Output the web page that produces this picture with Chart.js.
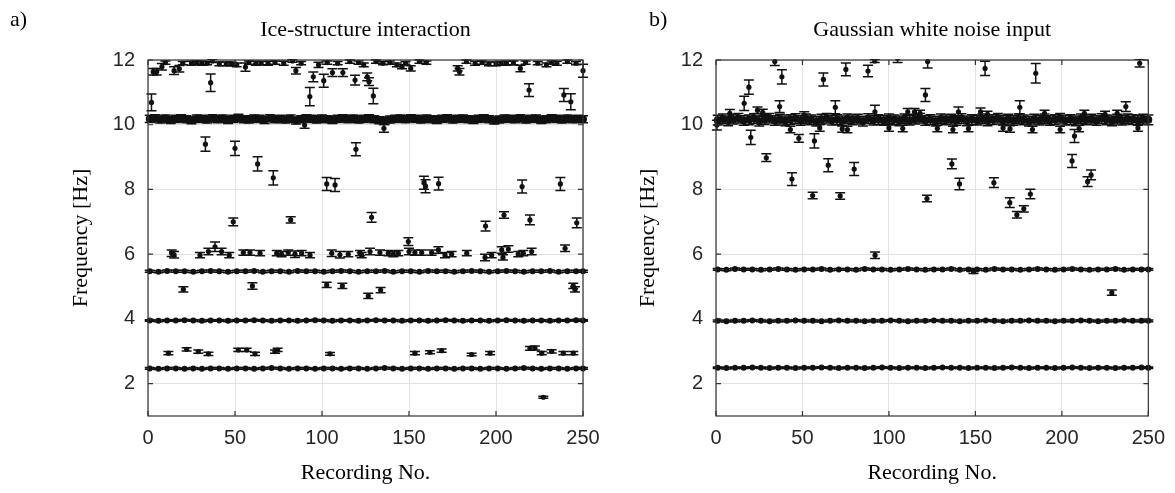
<!DOCTYPE html>
<html>
<head>
<meta charset="utf-8">
<script src="https://cdn.jsdelivr.net/npm/chart.js@4.4.1/dist/chart.umd.min.js"></script>
<style>
  body { margin: 0; background: #fff; width: 1175px; height: 493px; position: relative; overflow: hidden; }
  .panel { position: absolute; top: 0; }
  .tag { position: absolute; top: 8px; font: 22px "Liberation Serif", serif; line-height: 1; color: #000; }
</style>
</head>
<body>
<div class="panel" style="left:0"><canvas id="chartA" width="610" height="493"></canvas></div>
<div class="panel" style="left:568px"><canvas id="chartB" width="607" height="493"></canvas></div>
<div class="tag" style="left:10px">a)</div>
<div class="tag" style="left:649px">b)</div>
<script>
// recording numbers used for the dense bands
const recs5 = [1,6,11,16,21,26,31,36,41,46,51,56,61,66,71,76,81,86,91,96,
  101,106,111,116,121,126,131,136,141,146,151,156,161,166,171,176,181,186,191,196,
  201,206,211,216,221,226,231,236,241,246,250];
const recs3 = [1,4,7,10,13,16,19,22,25,28,31,34,37,40,43,46,49,52,55,58,
  61,64,67,70,73,76,79,82,85,88,91,94,97,100,103,106,109,112,115,118,
  121,124,127,130,133,136,139,142,145,148,151,154,157,160,163,166,169,172,175,178,
  181,184,187,190,193,196,199,202,205,208,211,214,217,220,223,226,229,232,235,238,
  241,244,247,250];

const yTicks = [2, 4, 6, 8, 10, 12];

// a) ice-structure interaction: bands
const aBand25 = [2.47,2.46,2.47,2.47,2.46,2.47,2.46,2.47,2.47,2.46,
  2.47,2.47,2.46,2.47,2.48,2.47,2.46,2.47,2.47,2.46,
  2.47,2.47,2.46,2.47,2.47,2.46,2.47,2.48,2.47,2.46,
  2.47,2.47,2.46,2.47,2.47,2.46,2.47,2.47,2.46,2.47,
  2.47,2.46,2.47,2.48,2.47,2.46,2.47,2.47,2.46,2.47,2.47];
const aBand40 = [3.95,3.94,3.95,3.95,3.96,3.95,3.94,3.95,3.95,3.94,
  3.95,3.95,3.96,3.95,3.94,3.95,3.95,3.94,3.95,3.96,
  3.95,3.94,3.95,3.95,3.94,3.95,3.96,3.95,3.95,3.94,
  3.95,3.95,3.94,3.95,3.96,3.95,3.94,3.95,3.95,3.94,
  3.95,3.96,3.95,3.94,3.95,3.95,3.94,3.95,3.95,3.96,3.95];
const aBand55 = [5.47,5.46,5.48,5.47,5.47,5.46,5.47,5.48,5.47,5.46,
  5.47,5.47,5.48,5.46,5.47,5.47,5.46,5.48,5.47,5.47,
  5.46,5.47,5.48,5.47,5.46,5.47,5.47,5.48,5.46,5.47,
  5.47,5.46,5.48,5.47,5.47,5.46,5.47,5.48,5.47,5.46,
  5.47,5.48,5.47,5.46,5.47,5.47,5.48,5.46,5.47,5.47,5.47];
const aBand102 = [10.18,10.2,10.16,10.19,10.15,10.18,10.2,10.17,10.14,10.19,
  10.18,10.16,10.2,10.17,10.19,10.15,10.18,10.21,10.17,10.16,
  10.19,10.18,10.15,10.2,10.17,10.18,10.16,10.19,10.13,10.17,
  10.2,10.18,10.16,10.19,10.17,10.15,10.18,10.2,10.17,10.19,
  10.16,10.18,10.2,10.17,10.14,10.12,10.16,10.18,10.19,10.17,
  10.2,10.18,10.16,10.19,10.17,10.15,10.18,10.2,10.16,10.18,
  10.19,10.17,10.15,10.18,10.2,10.17,10.13,10.16,10.19,10.18,
  10.17,10.2,10.16,10.18,10.19,10.15,10.17,10.2,10.18,10.16,
  10.19,10.17,10.18,10.17];
const aBandErr = [0.025, 0.025, 0.03, 0.11];

// a) single estimates: [recording, frequency, half error]
const aPoints = [
  [2,10.69,0.26],[3,11.64,0.1],[5,11.64,0.1],[8,11.79,0.1],[10,11.92,0.05],[15,11.67,0.12],
  [18,11.73,0.1],[20,11.9,0.05],[25,11.9,0.06],[28,11.92,0.05],[31,11.9,0.06],[34,11.9,0.05],
  [36,11.3,0.27],[37,11.97,0.05],[41,11.88,0.06],[45,11.88,0.06],[48,11.88,0.06],[51,11.85,0.06],
  [56,11.78,0.13],[58,11.92,0.05],[62,11.9,0.06],[65,11.9,0.05],[69,11.9,0.06],[73,11.92,0.05],
  [78,11.9,0.06],[83,11.97,0.04],[85,11.67,0.1],[88,11.9,0.05],[93,10.87,0.28],[95,11.48,0.15],
  [98,11.85,0.08],[101,11.36,0.2],[103,11.92,0.05],[106,11.61,0.12],[109,11.9,0.05],[112,11.61,0.12],
  [116,11.95,0.05],[119,11.38,0.15],[121,11.92,0.05],[124,11.85,0.06],[126,11.48,0.12],[127,11.33,0.12],
  [129.5,10.89,0.24],[131,11.95,0.05],[135,11.9,0.05],[139,11.92,0.05],[143,11.85,0.06],[146,11.79,0.06],
  [148,11.9,0.05],[151,11.74,0.08],[156,11.95,0.05],[160,11.92,0.05],[178,11.74,0.08],[179,11.64,0.1],
  [183,11.95,0.05],[188,11.9,0.06],[192,11.92,0.05],[196,11.88,0.06],[200,11.88,0.06],[203,11.9,0.05],
  [206,11.9,0.06],[210,11.91,0.06],[214,11.74,0.1],[217,11.92,0.05],[219,11.07,0.2],[224,11.9,0.05],
  [229,11.85,0.06],[232,11.92,0.05],[235,11.9,0.06],[239,10.92,0.2],[241,11.95,0.05],[243,10.71,0.25],
  [246,11.9,0.05],[250,11.67,0.2],
  [90,9.99,0.1],[135.6,9.89,0.12],
  [33,9.4,0.22],[50,9.27,0.22],[63,8.79,0.22],[72,8.36,0.22],[102.7,8.17,0.2],[107.5,8.14,0.2],
  [119.5,9.24,0.2],[158.6,8.21,0.2],[159.5,8.1,0.2],[167,8.18,0.2],[215,8.09,0.2],[237,8.17,0.2],
  [49,7.0,0.12],[82,7.06,0.1],[128.5,7.14,0.15],[194,6.87,0.15],[204.6,7.21,0.1],[219.5,7.06,0.15],
  [246.4,6.97,0.15],
  [13.6,6.03,0.1],[15,5.98,0.1],[29.9,5.97,0.08],[34.7,6.08,0.1],[38.5,6.23,0.15],[42.3,6.08,0.1],
  [46.7,5.97,0.08],[54.8,6.05,0.08],[58.6,6.05,0.08],[64.4,6.03,0.08],[74,6.03,0.08],[76.8,6.0,0.08],
  [80.6,6.05,0.08],[84.5,6.0,0.1],[88.3,6.03,0.08],[93.1,5.97,0.08],[105.6,6.03,0.1],[110.3,5.98,0.1],
  [115.1,6.0,0.08],[121.8,6.03,0.08],[122.8,5.97,0.08],[127.6,6.08,0.1],[133.3,6.05,0.08],[138.1,6.03,0.08],
  [141,6.0,0.08],[143.9,6.03,0.08],[149.6,6.39,0.12],[150,6.08,0.1],[153.4,6.05,0.08],[157.3,6.05,0.08],
  [163,6.05,0.08],[166.9,6.13,0.1],[170.7,5.97,0.08],[174.5,6.0,0.08],[183.2,6.03,0.08],[193.7,5.9,0.1],
  [197.5,5.97,0.08],[203.3,6.13,0.1],[204,5.9,0.08],[207.1,6.16,0.1],[212.8,6.0,0.08],[215.7,6.03,0.08],
  [220.5,6.08,0.1],[239.7,6.18,0.1],
  [20.3,4.91,0.08],[60,5.02,0.1],[102.7,5.05,0.08],[111.7,5.02,0.08],[126.6,4.71,0.08],[133.7,4.89,0.08],
  [244.4,5.02,0.08],[245.4,4.91,0.08],
  [11.7,2.94,0.05],[22.2,3.06,0.05],[28.9,2.99,0.05],[34.7,2.92,0.05],[51.9,3.04,0.05],[56.7,3.04,0.05],
  [61.5,2.92,0.05],[73,2.99,0.05],[74.5,3.04,0.05],[104.6,2.92,0.04],[153.4,2.94,0.05],[162,2.97,0.05],
  [168.8,3.02,0.05],[186,2.9,0.04],[196.6,2.94,0.05],[219.5,3.09,0.06],[222.4,3.1,0.06],[226.3,2.94,0.05],
  [232,3.0,0.05],[238.7,2.94,0.05],[244.4,2.94,0.05],
  [227.2,1.58,0.03]
];

// b) gaussian white noise input: bands
const bBand25 = [2.49,2.48,2.49,2.49,2.5,2.49,2.48,2.49,2.49,2.48,
  2.49,2.49,2.5,2.49,2.48,2.49,2.49,2.48,2.49,2.5,
  2.49,2.48,2.49,2.49,2.48,2.49,2.5,2.49,2.49,2.48,
  2.49,2.49,2.48,2.49,2.5,2.49,2.48,2.49,2.49,2.48,
  2.49,2.5,2.49,2.48,2.49,2.49,2.48,2.49,2.49,2.5,2.49];
const bBand40 = [3.94,3.93,3.94,3.94,3.95,3.94,3.93,3.94,3.94,3.95,
  3.94,3.94,3.93,3.94,3.95,3.94,3.94,3.93,3.94,3.94,
  3.95,3.94,3.93,3.94,3.94,3.95,3.94,3.94,3.93,3.94,
  3.94,3.95,3.94,3.93,3.94,3.94,3.95,3.94,3.94,3.93,
  3.94,3.94,3.95,3.94,3.93,3.94,3.94,3.95,3.94,3.94,3.94];
const bBand55 = [5.53,5.52,5.54,5.53,5.53,5.52,5.53,5.54,5.53,5.52,
  5.53,5.53,5.54,5.52,5.53,5.53,5.52,5.54,5.53,5.53,
  5.52,5.53,5.54,5.53,5.52,5.53,5.53,5.54,5.52,5.53,
  5.53,5.52,5.54,5.53,5.53,5.52,5.53,5.54,5.53,5.52,
  5.53,5.54,5.53,5.52,5.53,5.53,5.54,5.52,5.53,5.53,5.53];
const bBand102 = [10.14,10.18,10.12,10.17,10.2,10.13,10.15,10.19,10.11,10.16,
  10.2,10.13,10.17,10.12,10.16,10.19,10.13,10.18,10.15,10.11,
  10.17,10.2,10.14,10.16,10.12,10.18,10.15,10.17,10.11,10.19,
  10.14,10.16,10.13,10.18,10.15,10.12,10.18,10.14,10.17,10.2,
  10.13,10.16,10.11,10.18,10.15,10.17,10.13,10.19,10.12,10.16,
  10.14,10.18,10.12,10.16,10.2,10.14,10.17,10.13,10.18,10.15,
  10.11,10.17,10.14,10.18,10.13,10.16,10.2,10.14,10.16,10.12,
  10.18,10.15,10.17,10.13,10.19,10.15,10.12,10.17,10.14,10.18,
  10.16,10.13,10.17,10.15];
const bBandErr = [0.025, 0.025, 0.03, 0.15];

const bPoints = [
  [0.5,9.99,0.15],[8,10.35,0.12],[16.3,10.66,0.22],[19,11.16,0.22],[20.1,9.61,0.22],[24,10.45,0.1],
  [27,10.38,0.1],[29.1,8.98,0.12],[34,11.95,0.12],[36.8,10.56,0.18],[38.1,11.48,0.22],[43,9.85,0.1],
  [43.9,8.32,0.2],[47.9,9.58,0.12],[51,10.3,0.1],[55.9,7.81,0.1],[56.9,9.5,0.22],[60,9.9,0.1],
  [62.1,11.4,0.2],[64.9,8.75,0.2],[69,10.54,0.2],[71.8,7.8,0.1],[73,9.87,0.1],[75.1,11.71,0.2],
  [76,9.85,0.1],[79.9,8.63,0.2],[87.9,11.66,0.18],[91.8,11.97,0.05],[91.9,10.4,0.2],[92,5.97,0.1],
  [100,9.9,0.1],[105,12.05,0.13],[108,9.88,0.1],[110.9,10.4,0.1],[114.8,10.4,0.1],[118,10.35,0.1],
  [121.1,10.92,0.2],[122,7.72,0.1],[122.4,11.95,0.2],[128,9.88,0.1],[136.4,8.79,0.15],[137,9.85,0.1],
  [140.2,10.4,0.15],[140.8,8.17,0.18],[146,9.88,0.1],[148.9,5.46,0.06],[153,10.4,0.12],[155.6,11.74,0.22],
  [157,10.32,0.1],[160.7,8.21,0.15],[166,9.9,0.1],[169.9,7.59,0.15],[170,9.87,0.1],[174,7.22,0.1],
  [175.7,10.54,0.2],[178,7.4,0.1],[181.8,7.86,0.15],[183,9.85,0.1],[184.9,11.59,0.3],[190,10.35,0.1],
  [199,9.85,0.1],[205.9,8.88,0.2],[207.3,9.65,0.2],[210,9.88,0.1],[213,10.35,0.1],[214.9,8.24,0.15],
  [216.9,8.45,0.15],[225,10.32,0.1],[228.9,4.81,0.08],[232,10.35,0.1],[237,10.56,0.15],[244,9.9,0.1],
  [245,11.9,0.12]
];

const errorBars = {
  id: 'errorBars',
  afterDatasetsDraw(chart) {
    const {ctx, chartArea: a, scales: {x, y}} = chart;
    ctx.save();
    ctx.beginPath();
    ctx.rect(a.left - 6, a.top - 1, a.width + 12, a.height + 2);
    ctx.clip();
    ctx.strokeStyle = '#111';
    ctx.lineWidth = 1.5;
    chart.data.datasets.forEach(ds => {
      ds.data.forEach(p => {
        const px = x.getPixelForValue(p.x);
        const lo = y.getPixelForValue(p.y - p.e);
        const hi = y.getPixelForValue(p.y + p.e);
        ctx.beginPath();
        ctx.moveTo(px, lo); ctx.lineTo(px, hi);
        ctx.moveTo(px - 5, lo); ctx.lineTo(px + 5, lo);
        ctx.moveTo(px - 5, hi); ctx.lineTo(px + 5, hi);
        ctx.stroke();
      });
    });
    ctx.restore();
  }
};

// matlab style box with inward ticks
const frame = {
  id: 'frame',
  afterDraw(chart) {
    const {ctx, chartArea: a, scales: {x, y}} = chart;
    ctx.save();
    ctx.strokeStyle = '#333';
    ctx.lineWidth = 1.2;
    ctx.strokeRect(a.left, a.top, a.width, a.height);
    ctx.beginPath();
    x.ticks.forEach(t => {
      const px = x.getPixelForValue(t.value);
      ctx.moveTo(px, a.bottom); ctx.lineTo(px, a.bottom - 5);
      ctx.moveTo(px, a.top); ctx.lineTo(px, a.top + 5);
    });
    y.ticks.forEach(t => {
      const py = y.getPixelForValue(t.value);
      ctx.moveTo(a.left, py); ctx.lineTo(a.left + 5, py);
      ctx.moveTo(a.right, py); ctx.lineTo(a.right - 5, py);
    });
    ctx.stroke();
    ctx.restore();
  }
};

function series(xs, ys, e, r) {
  return {
    data: xs.map((rec, i) => ({x: rec, y: ys[i], e: e})),
    pointRadius: r,
    pointBackgroundColor: '#111',
    pointBorderWidth: 0,
    clip: {left: 6, right: 6, top: 1, bottom: 1}
  };
}

function makeChart(id, title, bands, errs, points, padRight, titlePad) {
  const datasets = bands.map((b, i) =>
    b.length === recs3.length ? series(recs3, b, errs[i], 4) : series(recs5, b, errs[i], 3));
  datasets.push(series(points.map(p => p[0]), points.map(p => p[1]), 0, 2.6));
  // individual half errors for the single estimates
  datasets[datasets.length - 1].data.forEach((d, i) => { d.e = points[i][2]; });
  const tickFont = {family: 'Liberation Sans', size: 20};
  const labelFont = {family: 'Liberation Serif', size: 22};
  return new Chart(document.getElementById(id), {
    type: 'scatter',
    data: {datasets},
    options: {
      responsive: false,
      animation: false,
      layout: {padding: {right: padRight}},
      plugins: {
        legend: {display: false},
        tooltip: {enabled: false},
        title: {
          display: true, text: title, fullSize: false, color: '#000',
          font: {family: 'Liberation Serif', size: 22, weight: 'normal'},
          padding: {top: 17, bottom: 16.6}
        }
      },
      scales: {
        x: {
          type: 'linear', min: 0, max: 250,
          ticks: {stepSize: 50, padding: 10, color: '#262626', font: tickFont},
          grid: {color: '#e2e2e2', drawTicks: false},
          border: {display: false},
          title: {display: true, text: 'Recording No.', color: '#000', font: labelFont, padding: {top: 0, bottom: 7}},
          afterFit(s) { s.height = 77; }
        },
        y: {
          type: 'linear', min: 1, max: 12,
          afterBuildTicks(s) { s.ticks = yTicks.map(v => ({value: v})); },
          ticks: {padding: 13, color: '#262626', font: tickFont},
          grid: {color: '#e2e2e2', drawTicks: false},
          border: {display: false},
          title: {display: true, text: 'Frequency [Hz]', color: '#000', font: labelFont, padding: {top: titlePad, bottom: 0}},
          afterFit(s) { s.width = 148; }
        }
      }
    },
    plugins: [errorBars, frame]
  });
}

makeChart('chartA', 'Ice-structure interaction',
  [aBand25, aBand40, aBand55, aBand102], aBandErr, aPoints, 27, 68);
makeChart('chartB', 'Gaussian white noise input',
  [bBand25, bBand40, bBand55, bBand102], bBandErr, bPoints, 24, 67);
</script>
</body>
</html>
